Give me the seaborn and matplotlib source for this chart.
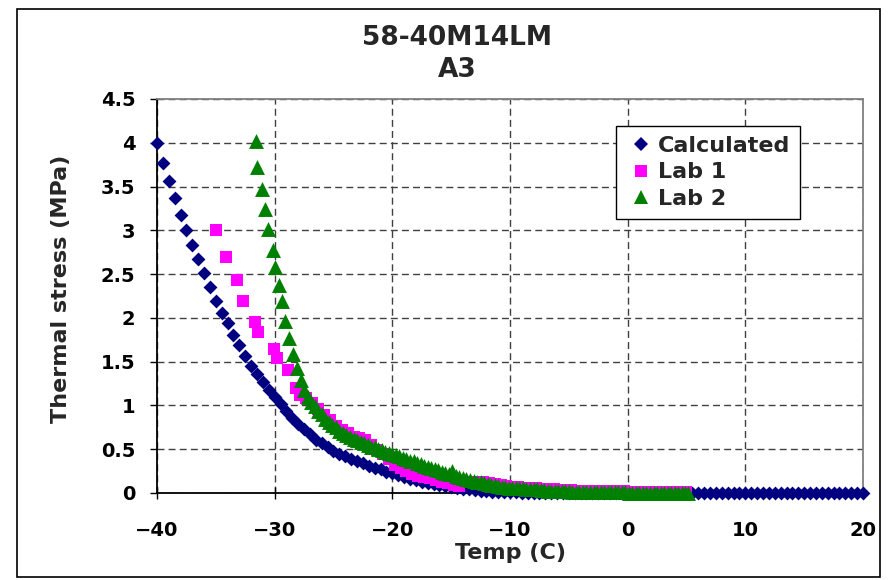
import matplotlib
matplotlib.use("Agg")
import matplotlib.pyplot as plt
import seaborn as sns
import pandas as pd
from matplotlib.lines import Line2D
from matplotlib.patches import Rectangle
from matplotlib.ticker import FormatStrFormatter, FixedLocator

title_lines = ["58-40M14LM", "A3"]
x_label = "Temp (C)"
y_label = "Thermal stress (MPa)"
series_names = ["Calculated", "Lab 1", "Lab 2"]
series_colors = ["#000080", "#FF00FF", "#008000"]
x_ticks = [-40, -30, -20, -10, 0, 10, 20]
y_ticks = [0, 0.5, 1, 1.5, 2, 2.5, 3, 3.5, 4, 4.5]

calc_temp = [-40.0, -39.5, -39.0, -38.5, -38.0, -37.5, -37.0, -36.5, -36.0, -35.5,
             -35.0, -34.5, -34.0, -33.5, -33.0, -32.5, -32.0, -31.5, -31.0, -30.5,
             -30.0, -29.5, -29.0, -28.5, -28.0, -27.5, -27.0, -26.5, -26.0, -25.5,
             -25.0, -24.5, -24.0, -23.5, -23.0, -22.5, -22.0, -21.5, -21.0, -20.5,
             -20.0, -19.5, -19.0, -18.5, -18.0, -17.5, -17.0, -16.5, -16.0, -15.5,
             -15.0, -14.5, -14.0, -13.5, -13.0, -12.5, -12.0, -11.5, -11.0, -10.5,
             -10.0, -9.5, -9.0, -8.5, -8.0, -7.5, -7.0, -6.5, -6.0, -5.5,
             -5.0, -4.5, -4.0, -3.5, -3.0, -2.5, -2.0, -1.5, -1.0, -0.5,
             0.0, 0.5, 1.0, 1.5, 2.0, 2.5, 3.0, 3.5, 4.0, 4.5,
             5.0, 5.5, 6.0, 6.5, 7.0, 7.5, 8.0, 8.5, 9.0, 9.5,
             10.0, 10.5, 11.0, 11.5, 12.0, 12.5, 13.0, 13.5, 14.0, 14.5,
             15.0, 15.5, 16.0, 16.5, 17.0, 17.5, 18.0, 18.5, 19.0, 19.5, 20.0]
calc_stress = [4.00, 3.77, 3.56, 3.37, 3.18, 3.00, 2.83, 2.67, 2.51, 2.35,
               2.19, 2.06, 1.94, 1.81, 1.69, 1.57, 1.45, 1.36, 1.27, 1.18,
               1.10, 1.02, 0.94, 0.86, 0.79, 0.73, 0.67, 0.61, 0.57, 0.52,
               0.48, 0.45, 0.42, 0.39, 0.36, 0.34, 0.31, 0.29, 0.27, 0.245,
               0.225, 0.205, 0.185, 0.165, 0.15, 0.13, 0.115, 0.10, 0.09, 0.075,
               0.065, 0.055, 0.045, 0.04, 0.03, 0.025, 0.02, 0.015, 0.012, 0.01,
               0.008, 0.006, 0.005, 0.004, 0.003, 0.002, 0.002, 0.001, 0.001, 0.001,
               0.0, 0.0, 0.0, 0.0, 0.0, 0.0, 0.0, 0.0, 0.0, 0.0,
               0.0, 0.0, 0.0, 0.0, 0.0, 0.0, 0.0, 0.0, 0.0, 0.0,
               0.0, 0.0, 0.0, 0.0, 0.0, 0.0, 0.0, 0.0, 0.0, 0.0,
               0.0, 0.0, 0.0, 0.0, 0.0, 0.0, 0.0, 0.0, 0.0, 0.0,
               0.0, 0.0, 0.0, 0.0, 0.0, 0.0, 0.0, 0.0, 0.0, 0.0, 0.0]

lab1_temp = [-35.0, -34.1, -33.2, -32.7, -31.7, -31.4, -30.05, -29.8, -28.85, -28.15,
             -27.85, -27.3, -26.8, -26.3, -25.8, -25.3, -24.8, -24.3, -23.8, -23.3,
             -22.8, -22.3, -21.8, -21.3, -20.8, -20.3, -19.8, -19.3, -18.8, -18.3,
             -17.8, -17.3, -16.8, -16.3, -15.8, -15.3, -14.8, -14.3, -13.8, -13.3,
             -12.8, -12.3, -11.8, -11.3, -10.8, -10.3, -9.8, -9.3, -8.8, -8.3,
             -7.8, -7.3, -6.8, -6.3, -5.8, -5.3, -4.8, -4.3, -3.8, -3.3,
             -2.8, -2.3, -1.8, -1.3, -0.8, -0.3, 0.2, 0.7, 1.2, 1.7,
             2.2, 2.7, 3.2, 3.7, 4.2, 4.7, 5.0]
lab1_stress = [3.00, 2.69, 2.43, 2.19, 1.95, 1.84, 1.64, 1.54, 1.40, 1.20,
               1.12, 1.08, 1.03, 0.96, 0.89, 0.83, 0.77, 0.72, 0.68, 0.64,
               0.63, 0.61, 0.55, 0.49, 0.44, 0.39, 0.32, 0.28, 0.25, 0.22,
               0.19, 0.18, 0.17, 0.15, 0.13, 0.11, 0.09, 0.08, 0.13, 0.13,
               0.125, 0.12, 0.11, 0.10, 0.09, 0.08, 0.07, 0.065, 0.06, 0.058,
               0.055, 0.05, 0.045, 0.04, 0.035, 0.032, 0.03, 0.028, 0.026, 0.025,
               0.024, 0.022, 0.02, 0.02, 0.019, 0.018, 0.017, 0.016, 0.015, 0.015,
               0.014, 0.014, 0.013, 0.013, 0.012, 0.012, 0.012]

lab2_temp = [-31.6, -31.5, -31.1, -30.8, -30.6, -30.1, -29.95, -29.6, -29.4, -29.1,
             -28.75, -28.4, -28.1, -27.8, -27.5, -27.2, -26.9, -26.6, -26.3, -26.0,
             -25.7, -25.4, -25.1, -24.8, -24.5, -24.2, -23.9, -23.6, -23.3, -23.0,
             -22.7, -22.4, -22.1, -21.8, -21.5, -21.2, -20.9, -20.6, -20.3, -20.0,
             -19.7, -19.4, -19.1, -18.8, -18.5, -18.2, -17.9, -17.6, -17.3, -17.0,
             -16.7, -16.4, -16.1, -15.8, -15.5, -15.2, -14.9, -14.6, -14.3, -14.0,
             -13.7, -13.4, -13.1, -12.8, -12.5, -12.2, -11.9, -11.6, -11.3, -11.0,
             -10.7, -10.4, -10.1, -9.8, -9.5, -9.2, -8.9, -8.6, -8.3, -8.0,
             -7.7, -7.4, -7.1, -6.8, -6.5, -6.2, -5.9, -5.6, -5.3, -5.0,
             -4.7, -4.4, -4.1, -3.8, -3.5, -3.2, -2.9, -2.6, -2.3, -2.0,
             -1.7, -1.4, -1.1, -0.8, -0.5, -0.2, 0.1, 0.4, 0.7, 1.0,
             1.3, 1.6, 1.9, 2.2, 2.5, 2.8, 3.1, 3.4, 3.7, 4.0,
             4.3, 4.6, 4.9, 5.1]
lab2_stress = [4.02, 3.72, 3.47, 3.24, 3.01, 2.78, 2.58, 2.37, 2.19, 1.97,
               1.77, 1.59, 1.43, 1.29, 1.18, 1.10, 1.04, 0.99, 0.94, 0.90,
               0.85, 0.81, 0.78, 0.75, 0.71, 0.69, 0.66, 0.64, 0.62, 0.60,
               0.58, 0.57, 0.55, 0.53, 0.52, 0.50, 0.49, 0.47, 0.46, 0.45,
               0.43, 0.42, 0.40, 0.39, 0.37, 0.36, 0.34, 0.33, 0.31, 0.30,
               0.29, 0.27, 0.26, 0.24, 0.23, 0.22, 0.25, 0.19, 0.18, 0.17,
               0.16, 0.15, 0.14, 0.13, 0.12, 0.11, 0.10, 0.095, 0.09, 0.08,
               0.07, 0.065, 0.06, 0.058, 0.055, 0.055, 0.052, 0.05, 0.048, 0.045,
               0.04, 0.035, 0.03, 0.025, 0.022, 0.02, 0.02, 0.019, 0.018, 0.018,
               0.017, 0.017, 0.016, 0.016, 0.015, 0.015, 0.014, 0.013, 0.012, 0.011,
               0.010, 0.010, 0.009, 0.008, 0.007, 0.006, 0.005, 0.005, 0.004, 0.004,
               0.003, 0.003, 0.003, 0.003, 0.002, 0.002, 0.002, 0.002, 0.002, 0.002,
               0.002, 0.002, 0.002, 0.002]

sns.set_style("white")
plt.rcParams["font.family"] = ["DejaVu Sans"]
plt.rcParams["font.weight"] = "bold"

W, H = 893, 580
fig = plt.figure(figsize=(W / 100, H / 100), dpi=100)
fig.patch.set_facecolor("white")
ax = fig.add_axes([157 / W, 1 - 493 / H, 706 / W, 394 / H])

series = [
    (calc_temp, calc_stress, "D", 50, 3),
    (lab1_temp, lab1_stress, "s", 78, 4),
    (lab2_temp, lab2_stress, "^", 115, 5),
]
for (tx, sy, mk, sz, zo), color in zip(series, series_colors):
    df = pd.DataFrame({"temp": tx, "stress": sy})
    sns.scatterplot(data=df, x="temp", y="stress", ax=ax, marker=mk, s=sz,
                    color=color, linewidth=0, zorder=zo, legend=False,
                    clip_on=False)

ax.set_xlim(-40, 20)
ax.set_ylim(0, 4.5)
ax.xaxis.set_major_locator(FixedLocator(x_ticks))
ax.yaxis.set_major_locator(FixedLocator(y_ticks))
ax.yaxis.set_major_formatter(FormatStrFormatter("%g"))
ax.set_xlabel("")
ax.set_ylabel("")

ax.set_axisbelow(True)
ax.grid(True, linestyle=(0, (5, 3)), color="#404040", linewidth=1.0)

for side in ["left", "bottom"]:
    ax.spines[side].set_color("black")
    ax.spines[side].set_linewidth(1.3)
for side in ["top", "right"]:
    ax.spines[side].set_color("#808080")
    ax.spines[side].set_linewidth(1.3)

ax.tick_params(axis="y", direction="out", length=5, width=1, pad=10.5,
               labelsize=14, colors="black", left=True)
ax.tick_params(axis="x", direction="inout", length=9, width=1, pad=16,
               labelsize=14, colors="black", bottom=True)

fig.text(457 / W, 1 - 45 / H, title_lines[0], ha="center", va="baseline",
         fontsize=19, fontweight="bold")
fig.text(457 / W, 1 - 77 / H, title_lines[1], ha="center", va="baseline",
         fontsize=19, fontweight="bold")
fig.text(511 / W, 1 - 553 / H, x_label, ha="center", va="center",
         fontsize=16, fontweight="bold")
fig.text(61 / W, 1 - 289 / H, y_label, ha="center", va="center",
         rotation=90, fontsize=16, fontweight="bold")

handles = [
    Line2D([], [], marker="D", linestyle="none", markersize=7.5,
           markerfacecolor=series_colors[0], markeredgewidth=0),
    Line2D([], [], marker="s", linestyle="none", markersize=9,
           markerfacecolor=series_colors[1], markeredgewidth=0),
    Line2D([], [], marker="^", linestyle="none", markersize=10.5,
           markerfacecolor=series_colors[2], markeredgewidth=0),
]
leg = ax.legend(handles, series_names, loc="upper left",
                bbox_to_anchor=(616 / W, 1 - 126 / H),
                bbox_transform=fig.transFigure, frameon=True, fancybox=False,
                edgecolor="black", framealpha=1,
                prop={"size": 16, "weight": "bold"},
                handlelength=1.4, handletextpad=0.05, labelspacing=0.3,
                borderpad=0.44, borderaxespad=0)
leg.get_frame().set_linewidth(1.0)
leg.set_zorder(10)

fig.patches.append(Rectangle((17 / W, 3 / H), 863 / W, 568 / H,
                             transform=fig.transFigure, fill=False,
                             edgecolor="black", linewidth=1.2))

fig.savefig("out.png", dpi=100)
